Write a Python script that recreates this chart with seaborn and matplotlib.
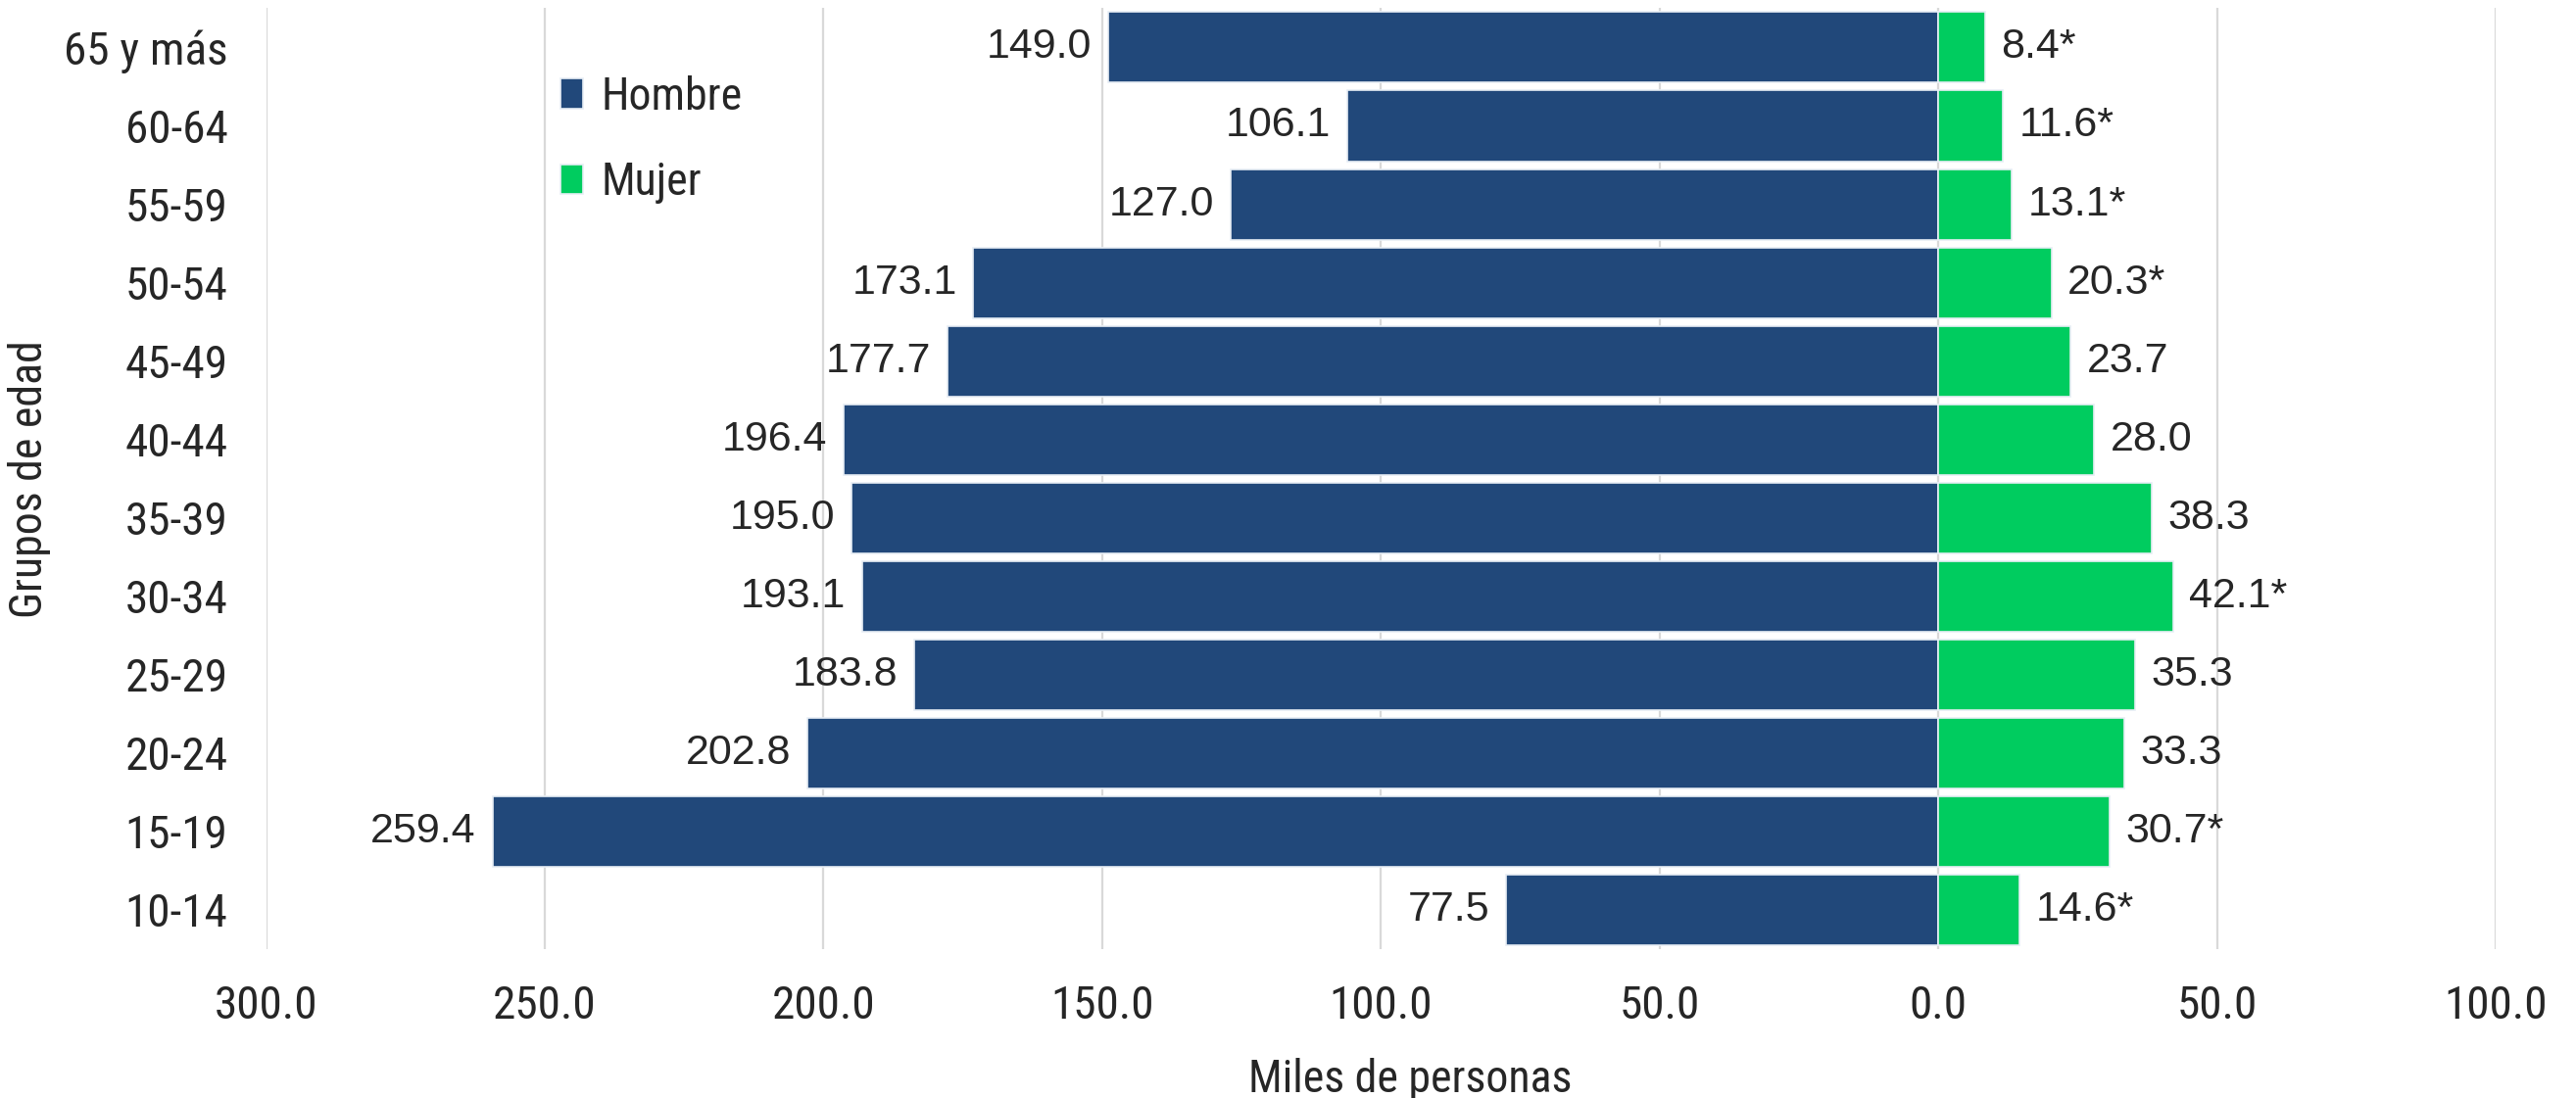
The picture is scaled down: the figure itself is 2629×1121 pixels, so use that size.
import pandas as pd
import numpy as np
import matplotlib.pyplot as plt
import matplotlib.font_manager as fm
import seaborn as sns

# Datos: miles de personas por grupo de edad
grupos = ['65 y más', '60-64', '55-59', '50-54', '45-49', '40-44',
          '35-39', '30-34', '25-29', '20-24', '15-19', '10-14']
hombre = [149.0, 106.1, 127.0, 173.1, 177.7, 196.4,
          195.0, 193.1, 183.8, 202.8, 259.4, 77.5]
mujer = [8.4, 11.6, 13.1, 20.3, 23.7, 28.0,
         38.3, 42.1, 35.3, 33.3, 30.7, 14.6]
mujer_asterisco = [True, True, True, True, False, False,
                   False, True, False, False, True, True]
xticks = [-300, -250, -200, -150, -100, -50, 0, 50, 100]

colores = {'Hombre': '#21487a', 'Mujer': '#00cc5f'}

# fuente estrecha si existe
instaladas = {f.name for f in fm.fontManager.ttflist}
narrow = 'DejaVu Sans'
for cand in ['Liberation Sans Narrow', 'Arial Narrow', 'Roboto Condensed',
             'DejaVu Sans Condensed', 'Open Sans Condensed']:
    if cand in instaladas:
        narrow = cand
        break
regular = ['Liberation Sans', 'DejaVu Sans']

#%%
df = pd.concat([
    pd.DataFrame({'Grupo': grupos, 'Sexo': 'Hombre', 'Valor': [-v for v in hombre]}),
    pd.DataFrame({'Grupo': grupos, 'Sexo': 'Mujer', 'Valor': mujer}),
])

sns.set_style('white')
plt.rcParams['font.family'] = [narrow, 'DejaVu Sans']
if narrow == 'DejaVu Sans':
    plt.rcParams['font.stretch'] = 'condensed'

fig = plt.figure(figsize=(13.145, 5.605), dpi=200)
ax = fig.add_axes([0.1033, 0.1356, 0.8655, 0.8569])

sns.barplot(data=df, x='Valor', y='Grupo', hue='Sexo', order=grupos,
            hue_order=['Hombre', 'Mujer'], palette=colores, dodge=False,
            saturation=1, width=0.9, orient='h', edgecolor='#e8eef5',
            linewidth=0.6, ax=ax)

ax.set_xlim(-300, 100)
ax.set_ylim(len(grupos) - 0.5, -0.5)
ax.set_xticks(xticks)
ax.set_xticklabels([f'{abs(t):.1f}' for t in xticks])
ax.tick_params(axis='both', length=0, labelsize=17)
ax.tick_params(axis='y', pad=14)
ax.tick_params(axis='x', pad=13)
ax.grid(axis='x', color='#d9d9d9', linewidth=0.8)
ax.grid(axis='y', visible=False)
ax.set_axisbelow(True)
for s in ax.spines.values():
    s.set_visible(False)

ax.set_ylabel('Grupos de edad', fontsize=16.5)
ax.yaxis.set_label_coords(-0.0966, 0.5)
ax.set_xlabel('Miles de personas', fontsize=16.5)
ax.xaxis.set_label_coords(0.513, -0.116)

# Etiquetas de datos
lab_h = [f'{v:.1f}' for v in hombre]
lab_m = [f'{v:.1f}' + ('*' if a else '') for v, a in zip(mujer, mujer_asterisco)]
ax.bar_label(ax.containers[0], labels=lab_h, padding=6, fontsize=15.5, family=regular)
ax.bar_label(ax.containers[1], labels=lab_m, padding=6, fontsize=15.5, family=regular)

handles, labels = ax.get_legend_handles_labels()
ax.legend(handles, labels, loc='upper left', bbox_to_anchor=(0.124, 0.948),
          frameon=False, fontsize=16.5, handlelength=0.5, handleheight=0.65,
          handletextpad=0.4, labelspacing=0.95, borderaxespad=0)

fig.savefig('out.png', dpi=200)
